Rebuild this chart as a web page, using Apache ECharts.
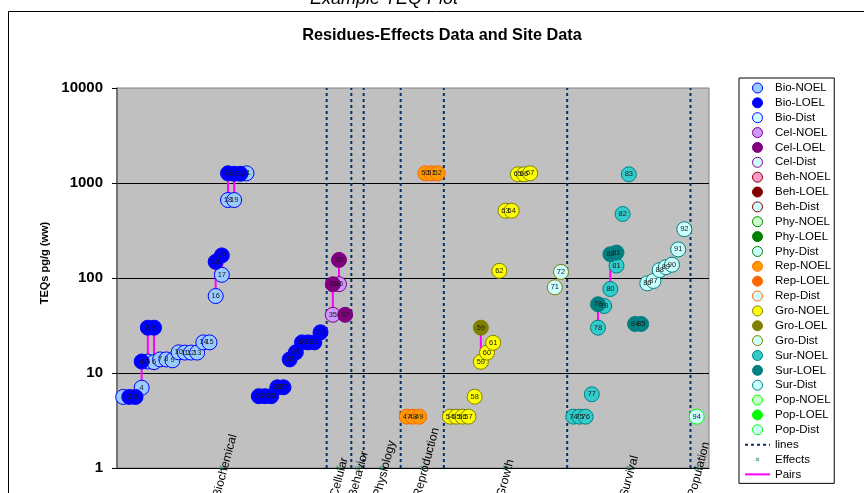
<!DOCTYPE html>
<html><head><meta charset="utf-8">
<script src="https://cdn.jsdelivr.net/npm/echarts@6/dist/echarts.min.js"></script>
<style>html,body{margin:0;padding:0;background:#fff}#main{width:864px;height:493px}</style>
</head><body><div id="main"></div>
<script>
const FONT = '"Liberation Sans", Arial, sans-serif';

// point ids (the id is also the x position) and TEQ values (pg/g ww)
const bioNoelIds = [1,4,5,6,7,8,9,10,11,12,13,14,15,16,17,18,19,21];
const bioNoelVals = [5.6,7.0,13.2,13.0,13.9,13.9,13.6,16.5,16.4,16.4,16.4,21,21,64.6,108,662,662,1265];
const bioLoelIds = [2,3,4,5,6,16,17,18,19,20,23,24,25,26,27,28,29,30,31,32,33];
const bioLoelVals = [5.6,5.6,13.2,30,30,148,173,1265,1250,1250,5.7,5.7,5.7,7.07,7.07,13.9,16.5,21,21,21,26.8];
const celNoelIds = [35,36];
const celNoelVals = [41,86];
const celLoelIds = [35,36,37];
const celLoelVals = [86,155,41];
const repNoelIds = [47,48,49,50,51,52];
const repNoelVals = [3.47,3.47,3.47,1265,1265,1265];
const groNoelIds = [54,55,56,57,58,59,60,61,62,63,64,65,66,67];
const groNoelVals = [3.47,3.47,3.47,3.47,5.63,13.1,16.4,20.8,119,511,511,1235,1235,1265];
const groLoelIds = [59];
const groLoelVals = [30];
const groDistIds = [71,72];
const groDistVals = [79.8,116];
const surNoelIds = [74,75,76,77,78,79,80,81,82,83];
const surNoelVals = [3.47,3.47,3.47,5.97,30,50.7,76.6,135,472,1235];
const surLoelIds = [78,80,81,84,85];
const surLoelVals = [52.9,178,185,32.8,32.8];
const surDistIds = [86,87,88,89,90,91,92];
const surDistVals = [87.9,93,121,130,138,200,326];
const popDistIds = [94];
const popDistVals = [3.47];

const effectNames = ['Biochemical','Cellular','Behavior','Physiology','Reproduction','Growth','Survival','Population'];
const effectX = [17,36,39,43,49.5,63,83,94];
const separatorX = [34,38,40,46,53,73,93];
const yTickLabels = ['1','10','100','1000','10000'];

const seriesDefs = [
  {name:'Bio-NOEL', ids:bioNoelIds, vals:bioNoelVals, fill:'#99CCFF', border:'#0000FF'},
  {name:'Bio-LOEL', ids:bioLoelIds, vals:bioLoelVals, fill:'#0000FF', border:'#0000FF'},
  {name:'Bio-Dist', ids:[], vals:[], fill:'#CCFFFF', border:'#0000FF'},
  {name:'Cel-NOEL', ids:celNoelIds, vals:celNoelVals, fill:'#CC99FF', border:'#800080'},
  {name:'Cel-LOEL', ids:celLoelIds, vals:celLoelVals, fill:'#800080', border:'#800080'},
  {name:'Cel-Dist', ids:[], vals:[], fill:'#CCFFFF', border:'#800080'},
  {name:'Beh-NOEL', ids:[], vals:[], fill:'#FF99CC', border:'#800000'},
  {name:'Beh-LOEL', ids:[], vals:[], fill:'#800000', border:'#800000'},
  {name:'Beh-Dist', ids:[], vals:[], fill:'#CCFFFF', border:'#800000'},
  {name:'Phy-NOEL', ids:[], vals:[], fill:'#CCFFCC', border:'#008000'},
  {name:'Phy-LOEL', ids:[], vals:[], fill:'#008000', border:'#008000'},
  {name:'Phy-Dist', ids:[], vals:[], fill:'#CCFFFF', border:'#008000'},
  {name:'Rep-NOEL', ids:repNoelIds, vals:repNoelVals, fill:'#FF9900', border:'#FF6600'},
  {name:'Rep-LOEL', ids:[], vals:[], fill:'#FF6600', border:'#FF6600'},
  {name:'Rep-Dist', ids:[], vals:[], fill:'#CCFFFF', border:'#FF6600'},
  {name:'Gro-NOEL', ids:groNoelIds, vals:groNoelVals, fill:'#FFFF00', border:'#808000'},
  {name:'Gro-LOEL', ids:groLoelIds, vals:groLoelVals, fill:'#808000', border:'#808000'},
  {name:'Gro-Dist', ids:groDistIds, vals:groDistVals, fill:'#CCFFFF', border:'#808000'},
  {name:'Sur-NOEL', ids:surNoelIds, vals:surNoelVals, fill:'#33CCCC', border:'#008080'},
  {name:'Sur-LOEL', ids:surLoelIds, vals:surLoelVals, fill:'#008080', border:'#008080'},
  {name:'Sur-Dist', ids:surDistIds, vals:surDistVals, fill:'#CCFFFF', border:'#008080'},
  {name:'Pop-NOEL', ids:[], vals:[], fill:'#CCFFCC', border:'#00FF00'},
  {name:'Pop-LOEL', ids:[], vals:[], fill:'#00FF00', border:'#00FF00'},
  {name:'Pop-Dist', ids:popDistIds, vals:popDistVals, fill:'#CCFFFF', border:'#00FF00'}
];

const pairGroups = [
  [bioNoelIds,bioNoelVals,bioLoelIds,bioLoelVals],
  [celNoelIds,celNoelVals,celLoelIds,celLoelVals],
  [groNoelIds,groNoelVals,groLoelIds,groLoelVals],
  [surNoelIds,surNoelVals,surLoelIds,surLoelVals]
];

const X_PATH = 'M3,3.7L3.7,3L5,4.3L6.3,3L7,3.7L5.7,5L7,6.3L6.3,7L5,5.7L3.7,7L3,6.3L4.3,5Z';

const series = [];
separatorX.forEach(x => series.push({
  type:'line', name:'lines', data:[[x,1],[x,10000]], symbol:'none', silent:true,
  lineStyle:{color:'#003366', width:2, type:[3,3]}, z:2, animation:false
}));
pairGroups.forEach(([ni,nv,li,lv]) => {
  ni.forEach((id,k) => {
    const j = li.indexOf(id);
    if (j >= 0) series.push({
      type:'line', name:'Pairs', data:[[id,nv[k]],[id,lv[j]]], symbol:'none', silent:true,
      lineStyle:{color:'#FF00FF', width:2}, z:3, animation:false
    });
  });
});
seriesDefs.forEach(d => series.push({
  type:'scatter', name:d.name, symbol:'circle', symbolSize:15, z:4, animation:false,
  data: d.ids.map((id,k) => [id, d.vals[k]]),
  itemStyle:{color:d.fill, borderColor:d.border, borderWidth:1, opacity:1},
  label:{show:true, position:'inside', formatter:p => String(p.value[0]),
         fontSize:7.5, color:'#1a1a1a', fontFamily:FONT},
  emphasis:{disabled:true}
}));
series.push({
  type:'scatter', name:'Effects', symbol:'path://' + X_PATH, symbolSize:5, z:5, animation:false,
  data: effectX.map(x => [x, 1]), itemStyle:{color:'#339966'}, emphasis:{disabled:true}
});

const legendNames = seriesDefs.map(d => d.name).concat(['lines','Effects','Pairs']);
const legendData = legendNames.map(n => {
  if (n === 'Effects') return {name:n, icon:'path://M0,0M10,10' + X_PATH};
  if (n === 'lines' || n === 'Pairs') return {name:n, itemStyle:{opacity:0}};
  return {name:n, itemStyle:{borderWidth:1}};
});

const chart = echarts.init(document.getElementById('main'));
chart.setOption({
  animation:false,
  backgroundColor:'#ffffff',
  grid:{left:117, right:155, top:88, bottom:25, show:true, backgroundColor:'#C0C0C0', borderColor:'#808080', borderWidth:1},
  xAxis:{type:'value', min:0, max:96, axisLabel:{show:false}, axisTick:{show:false},
         splitLine:{show:false}, axisLine:{show:true, onZero:false, lineStyle:{color:'#000', width:1}}},
  yAxis:{type:'log', logBase:10, min:1, max:10000,
         axisLabel:{fontSize:15, fontWeight:'bold', color:'#000', fontFamily:FONT, margin:14,
                    formatter:(v) => yTickLabels[Math.round(Math.log10(v))]},
         axisTick:{show:true, length:5, lineStyle:{color:'#000'}},
         axisLine:{show:true, lineStyle:{color:'#606060', width:1.5}},
         splitLine:{show:true, showMinLine:false, showMaxLine:false, lineStyle:{color:'#000', width:1}},
         minorTick:{show:false}},
  legend:{orient:'vertical', left:739, top:78, height:460, padding:[4,3,3,5], itemWidth:25, itemHeight:10, itemGap:2.86,
          borderColor:'#000', borderWidth:1, backgroundColor:'#fff',
          textStyle:{fontSize:11.5, color:'#000', fontFamily:FONT}, data:legendData,
          selectedMode:false},
  tooltip:{show:false},
  series:series
});

const graphics = [
  {type:'rect', shape:{x:8.5, y:11.5, width:900, height:600}, style:{fill:'none', stroke:'#000', lineWidth:1}, z:-10, silent:true},
  {type:'text', x:384, y:-1, style:{text:'Example TEQ Plot', font:'italic 18px ' + FONT, fill:'#000', textAlign:'center', textVerticalAlign:'middle'}, silent:true},
  {type:'text', x:442, y:35.5, style:{text:'Residues-Effects Data and Site Data', font:'bold 16.3px ' + FONT, fill:'#000', textAlign:'center', textVerticalAlign:'middle'}, silent:true},
  {type:'text', x:45, y:263, rotation:Math.PI/2, style:{text:'TEQs pg/g (ww)', font:'bold 11px ' + FONT, fill:'#000', textAlign:'center', textVerticalAlign:'middle'}, silent:true}
];
effectNames.forEach((name,i) => {
  const p = chart.convertToPixel({gridIndex:0}, [effectX[i], 1]);
  graphics.push({type:'text', x:p[0]-5, y:p[1]+29, rotation:75*Math.PI/180, z:50, silent:true,
    style:{text:name, font:'12px ' + FONT, fill:'#000', textAlign:'left', textVerticalAlign:'middle'}});
});
chart.setOption({graphic:graphics});
</script></body></html>
